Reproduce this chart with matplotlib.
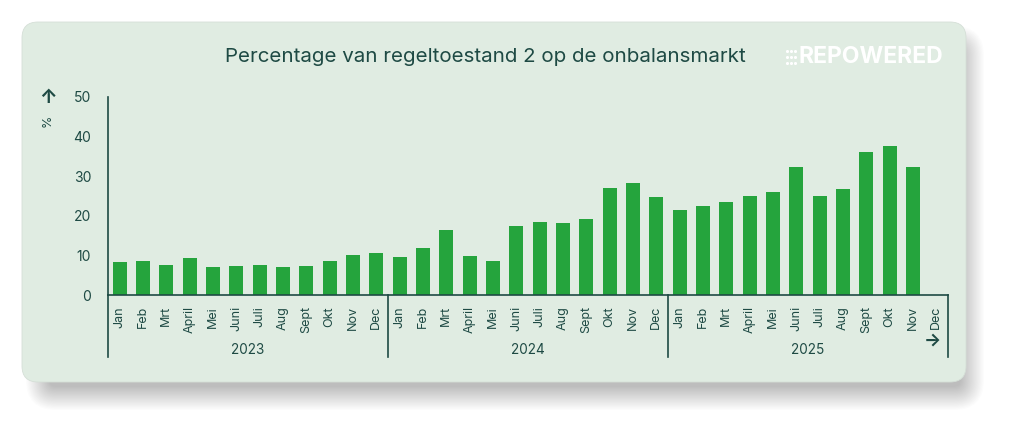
import numpy as np
import matplotlib
matplotlib.use("Agg")
import matplotlib.pyplot as plt
from matplotlib.patches import FancyBboxPatch

plt.rcParams['font.family'] = ['Inter', 'DejaVu Sans']

# data
months = ['Jan', 'Feb', 'Mrt', 'April', 'Mei', 'Juni', 'Juli', 'Aug', 'Sept', 'Okt', 'Nov', 'Dec']
years = ['2023', '2024', '2025']
pct_2023 = [8.3, 8.6, 7.7, 9.4, 7.0, 7.4, 7.7, 7.0, 7.2, 8.7, 10.2, 10.7]
pct_2024 = [9.6, 11.9, 16.5, 9.8, 8.6, 17.3, 18.5, 18.2, 19.1, 26.9, 28.3, 24.7]
pct_2025 = [21.4, 22.5, 23.4, 25.1, 26.1, 32.4, 25.0, 26.7, 36.1, 37.5, 32.4]  # no Dec yet

title = 'Percentage van regeltoestand 2 op de onbalansmarkt'

card = '#e0ece2'
bar_col = '#25a43d'
ink = '#1e4a44'

fig = plt.figure(figsize=(10.24, 4.4), dpi=100)
fig.patch.set_facecolor('white')

# background layer in pixel coords
bg = fig.add_axes([0, 0, 1, 1])
bg.set_xlim(0, 1024)
bg.set_ylim(440, 0)
bg.axis('off')

# soft blurred shadow, shifted down/right of the card
for k in range(22):
    g = 14 - k * 1.1
    sh = FancyBboxPatch((40 - g, 40 - g), 930 + 2 * g, 356 + 2 * g,
                        boxstyle='round,pad=0,rounding_size=%.1f' % max(4, 16 + g),
                        fc='#000000', ec='none', alpha=0.011)
    bg.add_patch(sh)
bg.add_patch(FancyBboxPatch((22, 22), 944, 360, boxstyle='round,pad=0,rounding_size=16',
                            fc=card, ec='#d5dfd7', lw=0.6))

bg.text(485, 57, title, ha='center', va='center', fontsize=14.8, color=ink)

# logo
dx, dy = np.meshgrid([787, 791, 795], [51, 57, 63])
bg.scatter(dx.ravel(), dy.ravel(), s=5, color='white', lw=0)
bg.text(799, 57, 'REPOWERED', ha='left', va='center', fontsize=16.5, fontweight='bold', color='white')

bg.text(48, 98, '\u2191', ha='center', va='center', fontsize=14, fontweight='bold', color=ink)
bg.text(48, 121, '%', ha='center', va='center', fontsize=9, rotation=90, color=ink)
bg.text(932, 341, '\u2192', ha='center', va='center', fontsize=13, fontweight='bold', color=ink)

# main chart
ax = fig.add_axes([108 / 1024, (440 - 295) / 440, 840 / 1024, 198 / 440])
ax.patch.set_alpha(0)

values = pct_2023 + pct_2024 + pct_2025
labels = months * len(years)
x = np.arange(len(labels))
ax.bar(x[:len(values)], values, width=0.6, color=bar_col, zorder=2)

ax.set_xlim(-0.5, len(labels) - 0.5)
ax.set_ylim(0, 50)
ax.set_yticks([0, 10, 20, 30, 40, 50])
ax.set_xticks(x)
ax.set_xticklabels(labels, rotation=90, fontsize=9, color=ink)
ax.tick_params(axis='x', length=0, pad=8)
ax.tick_params(axis='y', length=0, pad=12, labelsize=10, labelcolor=ink)
for s in ['top', 'right']:
    ax.spines[s].set_visible(False)
for s in ['left', 'bottom']:
    ax.spines[s].set_color(ink)
    ax.spines[s].set_linewidth(1.2)

# year group separators and labels
for i, yr in enumerate(years):
    ax.plot([i * 12 - 0.5, i * 12 - 0.5], [0, -15.7], color=ink, lw=1.2, clip_on=False)
    ax.text(i * 12 + 5.5, -13.9, yr, ha='center', va='center', fontsize=9.8, color=ink)
ax.plot([len(labels) - 0.5, len(labels) - 0.5], [0, -15.7], color=ink, lw=1.2, clip_on=False)

fig.savefig('out.png', dpi=100, facecolor='white')
